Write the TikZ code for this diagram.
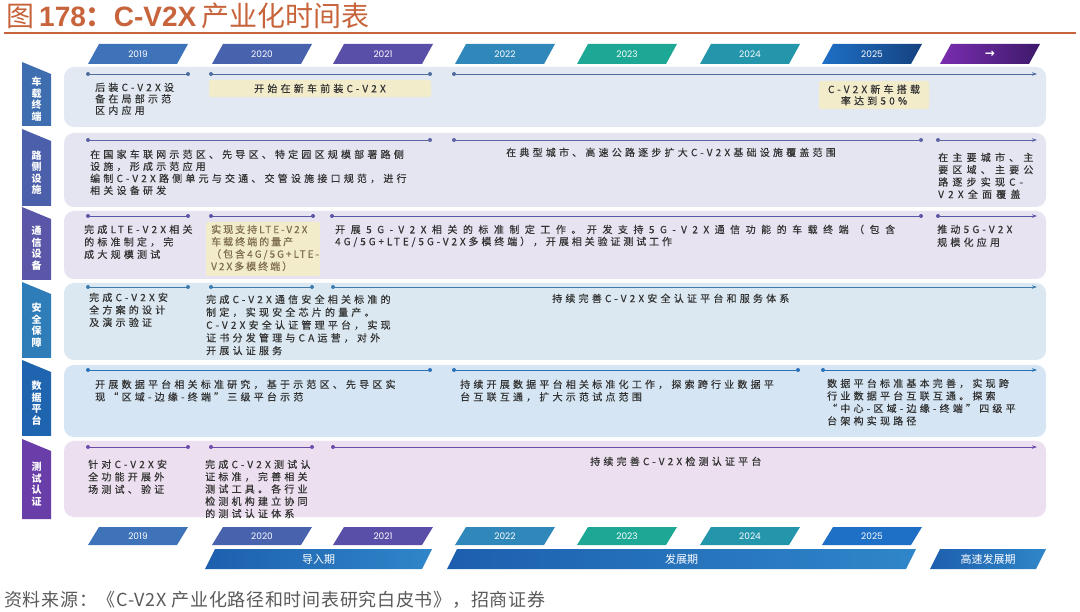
\documentclass[tikz,border=0pt]{standalone}
\usepackage{fontspec}
\setmainfont{Noto Sans CJK SC}
\newfontfamily\lib{Liberation Sans}
\newfontfamily\pop{Poppins}
\newfontfamily\dvs{DejaVu Sans}
\usetikzlibrary{arrows.meta}
\definecolor{ttl}{HTML}{C8643C}
\definecolor{txt}{HTML}{333333}
\definecolor{ytxt}{HTML}{7E6E4E}
\definecolor{yel}{HTML}{F3ECCB}
\definecolor{srcc}{HTML}{5A5A5A}
\definecolor{p1}{HTML}{E2E9F2}
\definecolor{p2}{HTML}{E5E5F1}
\definecolor{p3}{HTML}{E7E3F1}
\definecolor{p4}{HTML}{DCE8F1}
\definecolor{p5}{HTML}{D5E5F4}
\definecolor{p6}{HTML}{ECDFEF}
\definecolor{l1}{HTML}{4F6D9E}
\definecolor{l2}{HTML}{5D63A3}
\definecolor{l3}{HTML}{5B56A6}
\definecolor{l4}{HTML}{3C7CAE}
\definecolor{l5}{HTML}{2B72B9}
\definecolor{l6}{HTML}{6C4BAA}
\definecolor{t1}{HTML}{3E6EB0}
\definecolor{t2}{HTML}{4C5FAA}
\definecolor{t3}{HTML}{5A57A8}
\definecolor{t4}{HTML}{2E7DB8}
\definecolor{t5}{HTML}{1F64AF}
\definecolor{t6}{HTML}{6A3EA8}
\definecolor{y19}{HTML}{3F73B9}
\definecolor{y20}{HTML}{4862AE}
\definecolor{y21}{HTML}{5A4FA8}
\definecolor{y22}{HTML}{2F88B9}
\definecolor{y23}{HTML}{1DA896}
\definecolor{y24}{HTML}{2396AB}
\definecolor{y25a}{HTML}{1E6FC6}
\definecolor{y25b}{HTML}{15427F}
\definecolor{yaa}{HTML}{7A2DB0}
\definecolor{yab}{HTML}{3D1A6A}
\definecolor{pba}{HTML}{1D5FAE}
\definecolor{pbb}{HTML}{2F86C9}

\tikzset{
  tx/.style={anchor=north west, inner sep=0pt, align=left, text=txt,
    font=\fontsize{10}{#1}\selectfont\addfontfeatures{LetterSpace=32,FakeBold=0.3}},
  tx/.default=12,
  ybox/.style={fill=yel, rounded corners=2pt, inner sep=0pt},
  yrtxt/.style={inner sep=0pt, text=white, font=\pop\fontsize{9}{10}\selectfont},
  tabtxt/.style={inner sep=0pt, text=white, align=center,
    font=\bfseries\fontsize{10}{11.5}\selectfont},
  pbtxt/.style={inner sep=0pt, text=white, font=\fontsize{11}{12}\selectfont},
  tl/.style={line width=0.9pt},
}

\newcommand\yrbar[6]{%
  \path[#5] ({#2-50},#4) -- ({#2-39},#3) -- ({#2+50},#3) -- ({#2+39},#4) -- cycle;
  \node[yrtxt] (#1) at (#2,{(#3+#4)/2}) {#6};
}
\newcommand\tlseg[5]{%
  \coordinate (#1a) at (#2,#4);
  \coordinate (#1b) at (#3,#4);
  \draw[tl,#5] (#1a) -- (#1b);
  \fill[#5] (#1a) circle (2pt);
  \fill[#5] (#1b) circle (2pt);
}
\newcommand\tlarr[5]{%
  \coordinate (#1a) at (#2,#4);
  \coordinate (#1b) at (#3,#4);
  \draw[tl,#5,-{Stealth[length=5pt,width=3.5pt]}] (#1a) -- (#1b);
  \fill[#5] (#1a) circle (2pt);
}
\newcommand\sidetab[5]{%
  \fill[#4] (22,#2) -- (51,{#2+12}) -- (51,#3) -- (22,#3) -- cycle;
  \node[tabtxt] (#1) at (36.5,{(#2+#3)/2+5}) {#5};
}
\newcommand\pbar[4]{%
  \path[left color=pba, right color=pbb] (#2,569) -- ({#2+10},549) -- (#3,549) -- ({#3-10},569) -- cycle;
  \node[pbtxt] (#1) at ({(#2+#3)/2},559) {#4};
}

\begin{document}
\begin{tikzpicture}[x=1pt,y=-1pt]
\useasboundingbox (0,0) rectangle (1080,612);
\fill[white] (0,0) rectangle (1080,612);

% title
\node[anchor=west, inner sep=0pt, text=ttl, font=\fontsize{28}{32}\selectfont] (title) at (6,16)
  {图\hspace{5pt}{\lib\bfseries 178}{\bfseries ：}{\lib\bfseries C-V2X}\hspace{5pt}产业化时间表};
\draw[ttl, line width=2pt] (4,33) -- (1076,33);

% top year bars
\yrbar{ty19}{138}{44}{64}{fill=y19}{2019}
\yrbar{ty20}{262}{44}{64}{fill=y20}{2020}
\yrbar{ty21}{383}{44}{64}{fill=y21}{2021}
\yrbar{ty22}{505}{44}{64}{fill=y22}{2022}
\yrbar{ty23}{627}{44}{64}{fill=y23}{2023}
\yrbar{ty24}{750}{44}{64}{fill=y24}{2024}
\yrbar{ty25}{872}{44}{64}{left color=y25a, right color=y25b}{2025}
\yrbar{tyar}{990}{44}{64}{left color=yaa, right color=yab}{\dvs\bfseries\fontsize{12}{12}\selectfont →}

% panels
\fill[p1, rounded corners=10pt] (64,67) rectangle (1046,127);
\fill[p2, rounded corners=10pt] (64,133) rectangle (1046,207);
\fill[p3, rounded corners=10pt] (64,211) rectangle (1046,279);
\fill[p4, rounded corners=10pt] (64,283) rectangle (1046,360);
\fill[p5, rounded corners=10pt] (64,365) rectangle (1046,437);
\fill[p6, rounded corners=10pt] (64,441) rectangle (1046,517);

% side tabs
\sidetab{tab1}{62}{126}{t1}{车\\载\\终\\端}
\sidetab{tab2}{129}{206}{t2}{路\\侧\\设\\施}
\sidetab{tab3}{207}{280}{t3}{通\\信\\设\\备}
\sidetab{tab4}{282}{358}{t4}{安\\全\\保\\障}
\sidetab{tab5}{360}{436}{t5}{数\\据\\平\\台}
\sidetab{tab6}{439}{519}{t6}{测\\试\\认\\证}

% timelines
\tlseg{s11}{88}{188}{74}{l1}
\tlseg{s12}{211}{430}{74}{l1}
\tlarr{s13}{454}{1037}{74}{l1}
\tlseg{s21}{88}{430}{140}{l2}
\tlseg{s22}{454}{921}{140}{l2}
\tlarr{s23}{938}{1037}{140}{l2}
\tlseg{s31}{88}{188}{216}{l3}
\tlseg{s32}{211}{313}{216}{l3}
\tlseg{s33}{332}{921}{216}{l3}
\tlarr{s34}{938}{1037}{216}{l3}
\tlseg{s41}{88}{188}{287}{l4}
\tlseg{s42}{211}{312}{287}{l4}
\tlarr{s43}{333}{1037}{287}{l4}
\tlseg{s51}{88}{430}{370}{l5}
\tlseg{s52}{454}{798}{370}{l5}
\tlarr{s53}{823}{1037}{370}{l5}
\tlseg{s61}{88}{188}{447}{l6}
\tlseg{s62}{211}{312}{447}{l6}
\tlarr{s63}{333}{1037}{447}{l6}

% row 1
\node[tx=11.5] (r1a) at (95,82.5) {后装C-V2X设\\备在局部示范\\区内应用};
\node[ybox, minimum width=222pt, minimum height=17pt, text=txt,
  font=\fontsize{10}{11}\selectfont\addfontfeatures{LetterSpace=32,FakeBold=0.3}] (r1b) at (320,88.5) {开始在新车前装C-V2X};
\node[ybox, minimum width=110pt, minimum height=28pt, align=center, text=txt,
  font=\fontsize{10}{11.5}\selectfont\addfontfeatures{LetterSpace=32,FakeBold=0.3}] (r1c) at (874,95) {C-V2X新车搭载\\率达到50\%};

% row 2
\node[tx] (r2a) at (90,149.5) {在国家车联网示范区、先导区、特定园区规模部署路侧\\设施，形成示范应用\\编制C-V2X路侧单元与交通、交管设施接口规范，进行\\相关设备研发};
\node[tx] (r2b) at (506,147.5) {在典型城市、高速公路逐步扩大C-V2X基础设施覆盖范围};
\node[tx=12.3, font=\fontsize{10}{12.3}\selectfont\addfontfeatures{LetterSpace=42,FakeBold=0.3}] (r2c) at (938,152.5) {在主要城市、主\\要区域、主要公\\路逐步实现C-\\V2X全面覆盖};

% row 3
\node[tx=12.5] (r3a) at (84,224.5) {完成LTE-V2X相关\\的标准制定，完\\成大规模测试};
\node[ybox, minimum width=114pt, minimum height=54pt] (r3bx) at (263,249) {};
\node[tx=12.3, text=ytxt, font=\fontsize{10}{12.3}\selectfont\addfontfeatures{LetterSpace=20,FakeBold=0.3}] (r3b) at (211,224.5)
  {实现支持LTE-V2X\\车载终端的量产\\（包含4G/5G+LTE-\\V2X多模终端）};
\node[tx=12] (r3c) at (335,224.5)
  {{\addfontfeatures{LetterSpace=55}开展5G-V2X相关的标准制定工作。开发支持5G-V2X通信功能的车载终端（包含}\\
   {\addfontfeatures{LetterSpace=29}4G/5G+LTE/5G-V2X多模终端），开展相关验证测试工作}};
\node[tx=13] (r3d) at (937,224.5) {推动5G-V2X\\规模化应用};

% row 4
\node[tx=12.5] (r4a) at (89,292.5) {完成C-V2X安\\全方案的设计\\及演示验证};
\node[tx=12.8] (r4b) at (206,294.5) {完成C-V2X通信安全相关标准的\\制定，实现安全芯片的量产。\\C-V2X安全认证管理平台，实现\\证书分发管理与CA运营，对外\\开展认证服务};
\node[tx] (r4c) at (552,293.5) {持续完善C-V2X安全认证平台和服务体系};

% row 5
\node[tx=12.5] (r5a) at (95,379.5) {开展数据平台相关标准研究，基于示范区、先导区实\\现“区域-边缘-终端”三级平台示范};
\node[tx=12.5] (r5b) at (460,379.5) {持续开展数据平台相关标准化工作，探索跨行业数据平\\台互联互通，扩大示范试点范围};
\node[tx=12.5] (r5c) at (827,378.5) {数据平台标准基本完善，实现跨\\行业数据平台互联互通。探索\\“中心-区域-边缘-终端”四级平\\台架构实现路径};

% row 6
\node[tx=12.5] (r6a) at (88,459.5) {针对C-V2X安\\全功能开展外\\场测试、验证};
\node[tx=12.3] (r6b) at (205,459.5) {完成C-V2X测试认\\证标准，完善相关\\测试工具。各行业\\检测机构建立协同\\的测试认证体系};
\node[tx] (r6c) at (590,456.5) {持续完善C-V2X检测认证平台};

% bottom year bars
\yrbar{by19}{138}{527}{545}{fill=y19}{2019}
\yrbar{by20}{262}{527}{545}{fill=y20}{2020}
\yrbar{by21}{383}{527}{545}{fill=y21}{2021}
\yrbar{by22}{505}{527}{545}{fill=y22}{2022}
\yrbar{by23}{627}{527}{545}{fill=y23}{2023}
\yrbar{by24}{750}{527}{545}{fill=y24}{2024}
\yrbar{by25}{872}{527}{545}{fill=y25a}{2025}

% period bars
\pbar{pb1}{205}{432}{导入期}
\pbar{pb2}{447}{916}{发展期}
\pbar{pb3}{930}{1046}{高速发展期}

% source
\node[anchor=west, inner sep=0pt, text=srcc, font=\fontsize{18}{21}\selectfont\addfontfeatures{LetterSpace=4}] (src) at (4,600)
  {资料来源：《C-V2X 产业化路径和时间表研究白皮书》，招商证券};
\end{tikzpicture}
\end{document}
